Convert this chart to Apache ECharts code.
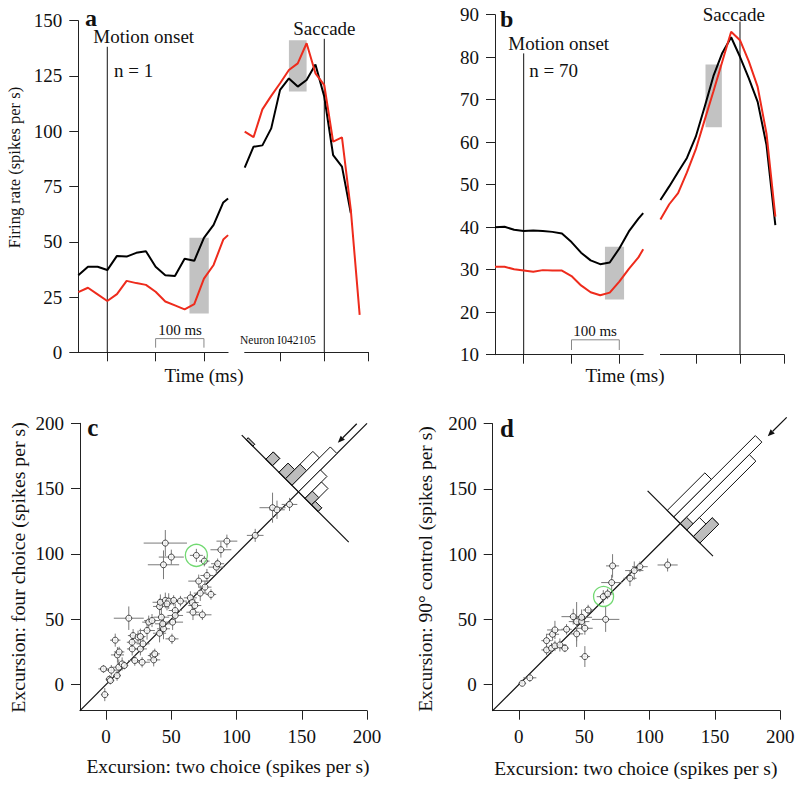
<!DOCTYPE html>
<html><head><meta charset="utf-8">
<script src="https://cdn.jsdelivr.net/npm/echarts@6/dist/echarts.min.js"></script>
<style>html,body{margin:0;padding:0;background:#fff}#chart{width:800px;height:787px}</style>
</head><body><div id="chart"></div>
<script>
// ---------------- DATA ----------------
// Panel a (single neuron), time in ms relative to motion onset (left) / saccade (right)
const aLeftTime  = [-60,-40,-20,0,20,40,60,80,100,120,140,160,180,200,220,240,250];
const aLeftBlack = [34.8,38.7,38.7,37.2,43.6,43.3,45.0,45.7,38.7,34.9,34.5,42.3,41.4,51.8,57.6,67.8,69.6];
const aLeftRed   = [27.2,29.2,26.2,23.2,26.3,32.3,31.3,30.5,27.4,23.0,21.2,19.4,21.8,33.3,39.5,51.0,53.0];
const aRightTime  = [-180,-160,-140,-120,-100,-80,-60,-40,-20,0,20,40,60,80];
const aRightBlack = [83.5,93.0,93.6,101.3,118.7,123.9,120.2,123.2,130.2,115.6,89.2,84.0,63.0,null];
const aRightRed   = [99.8,97.3,109.9,116.0,121.7,127.7,130.7,139.8,126.2,120.9,95.3,97.2,64.4,16.9];
const aBoxLeft  = [[170,210,17.5,51.8]];
const aBoxRight = [[-80,-40,118,141.2]];

// Panel b (population, n = 70)
const bLeftTime  = [-60,-40,-20,0,20,40,60,80,100,120,140,160,180,200,220,240,250];
const bLeftBlack = [40.0,40.1,39.4,39.1,39.2,39.1,38.9,38.5,36.5,34.0,32.2,31.3,31.7,35.0,39.0,42.0,43.3];
const bLeftRed   = [30.7,30.7,30.1,29.8,29.5,29.9,29.8,29.8,28.5,26.3,24.7,24.0,24.6,27.2,30.2,32.9,34.8];
const bRightTime  = [-180,-160,-140,-120,-100,-80,-60,-40,-20,0,20,40,60,80];
const bRightBlack = [46.4,49.6,53.0,56.3,61.3,68.3,75.6,81.0,84.7,80.1,75.0,69.5,59.3,40.5];
const bRightRed   = [41.8,45.4,48.0,52.9,58.3,65.2,72.0,79.0,86.0,84.0,79.0,73.0,62.0,42.5];
const bBoxLeft  = [[170,210,23,35.4]];
const bBoxRight = [[-78,-41,63.5,78.3]];

// Panel c: two choice (x), four choice (y), x error, y error
const cTwo  = [-1,-2,2.6,4,7,8.7,10,9.7,8.4,12.3,14,17.4,20.7,20,22,24.5,26.3,26.3,27.6,28.3,31.4,32.7,35.2,36,36.5,37.3,41,41.6,42.4,41,44,43.4,45.4,48,50.5,51,51.8,53,57,45.4,44,50,69.2,75.3,64.6,66,66.6,68,71,72.2,73.8,75.8,77.3,80.4,84.5,85.5,88,92.6,114.3,127.6,131,140.6,3.3,46.7,19.9,53];
const cFour = [-7.7,12,4.1,11,34,22.7,25,13.3,6.9,15.8,14.6,50.8,37.5,27.3,18.4,36.3,36.8,27.3,17.1,31.2,41.4,47.8,49,22.2,18.9,23.5,59.8,63,51.6,39.3,42.7,46.5,64.4,63.9,35,47.8,64.4,56.7,63.9,108.3,91.7,97.6,98.9,94.5,66.4,62.8,55.4,60.5,79.2,70,53.4,74.6,83.5,69,89.9,92.5,103.2,109.8,114.2,135.4,133.8,137.9,3.1,61.8,32.4,52.9];
const cTwoErr  = [3,4,3,4,4,5,4,5,3,4,3,11.5,4,4,5,5,4,5,6,5,6,5,6,4,5,4,5,6,6,5,5,6,5,6,5,8,5,5,5,16.6,12,9.6,5,4,5,5,5,5,8,5,7,5,5,4,6,5,8,8,6.4,10,6,6,3,5,4,6];
const cFourErr = [5,3,3,4,5,6,4,6,4,5,3,9,5,5,4,5,6,5,4,5,7,5,5,4,5,4,6,6,8,7,8,6,6,6,4,6,4,5,4,10,11,5.7,5,4,5,6,6,5,5,6,4,5,5,4,5,4,6,5,5,11.5,7,5,3,5,4,5];
const cHighlight = [[69.2,98.9]];
// Histogram of (four - two) differences, bins of 10 spikes/s
const cBinLo   = [70,40,20,10,0,-10,-20,-30];
const cBinHi   = [80,50,30,20,10,0,-10,-20];
const cCount   = [1,4,5,15,21,12,9,2];
const cGray    = [1,4,5,8,0,0,4,2];
const cMeanDiff = 7.5;

// Panel d: two choice (x), 90 deg control (y), x error, y error
const dTwo  = [2.6,8.4,21.2,21.2,25,25.8,27.6,27.6,31.4,35.2,36.5,41.6,44.2,44.2,48,48,50.5,50.5,53,64.6,67.9,66.4,71,71.7,85,88.3,92.6,113.8];
const dCtrl = [1,5.2,33.7,26.6,27.9,38.6,41.9,29.7,30.4,27.9,42.4,52.1,48.3,38.9,48.3,51.6,43.2,21.5,57.2,67.4,69.5,50,78.2,91,81.5,87.4,90.4,91.7];
const dTwoErr  = [3,5,4,4,5,5,6,4,5,3,4,9,6,5,6,8,6,4,4,5,4,10.5,8,5,5,7,6,7.7];
const dCtrlErr = [2,3,5,4,4,5,7,4,5,3,4,6,15,10,6,6,5,8,4,5,4,9.6,6,9,6,7,4,5];
const dHighlight = [[64.8,67.6]];
const dBinLo   = [10,0,-10,-20,-30];
const dBinHi   = [20,10,0,-10,-20];
const dCount   = [6,13,11,2,3];
const dGray    = [0,0,1,0,3];
const dMeanDiff = 0;

// ---------------- LAYOUT / STYLE ----------------
const serif = "'Liberation Serif','Times New Roman',serif";
const axisColor = '#222';
const red = '#ee2b1c';
const histC = {center:147.5, scale:1.4, extent:[-77,87]};
const histD = {center:123.5, scale:4.8, extent:[-50,50]};

const zip = (xs, ys) => xs.map((x,i) => [x, ys[i]]);
const zip4 = (a,b,c,d) => a.map((x,i) => [x,b[i],c[i],d[i]]);

const chart = echarts.init(document.getElementById('chart'), null, {renderer:'svg'});

const grids = [
  {left:78.3, top:20.7, width:149.8, height:331.6},
  {left:244.7, top:20.7, width:123.8, height:331.6},
  {left:495, top:14.7, width:148.2, height:340},
  {left:660.4, top:14.7, width:123.8, height:340},
  {left:80, top:423.3, width:287, height:287.4},
  {left:492.7, top:423.7, width:287.6, height:287}
].map(g => Object.assign({outerBoundsMode:'none', containLabel:false}, g));

function xAx(grid, min, max, ticks, showLabels) {
  return {type:'value', gridIndex:grid, min:min, max:max,
    axisLine:{show:true, onZero:false, lineStyle:{color:axisColor, width:1}},
    axisTick:{show:true, customValues:ticks, length:9, lineStyle:{color:axisColor, width:1}},
    axisLabel:{show:showLabels, customValues:ticks, margin:16, fontSize:19, fontFamily:serif, color:'#111'},
    splitLine:{show:false}};
}
function yAx(grid, min, max, opt) {
  const base = {type:'value', gridIndex:grid, min:min, max:max,
    axisLine:{show:true, onZero:false, lineStyle:{color:axisColor, width:1}},
    axisTick:{show:true, length:9, lineStyle:{color:axisColor, width:1}},
    axisLabel:{show:true, margin:16, fontSize:19, fontFamily:serif, color:'#111'},
    splitLine:{show:false}};
  if (opt.interval) base.interval = opt.interval;
  if (opt.ticks) { base.axisTick.customValues = opt.ticks; base.axisLabel.customValues = opt.ticks; }
  if (opt.hidden) base.show = false;
  return base;
}
const scTicks = [0,50,100,150,200];
const xAxes = [
  xAx(0,-60,250,[0,100,200],false),
  xAx(1,-180,100,[-100,0,100],false),
  xAx(2,-60,250,[0,100,200],false),
  xAx(3,-180,100,[-100,0,100],false),
  xAx(4,-20,200,scTicks,true),
  xAx(5,-20,200,scTicks,true)
];
const yAxes = [
  yAx(0,0,150,{interval:25}),
  yAx(1,0,150,{hidden:true}),
  yAx(2,10,90,{interval:10}),
  yAx(3,10,90,{hidden:true}),
  yAx(4,-20,200,{ticks:scTicks}),
  yAx(5,-20,200,{ticks:scTicks})
];

// ---------------- RENDER HELPERS ----------------
function boxSeries(idx, data) {
  return {type:'custom', xAxisIndex:idx, yAxisIndex:idx, data:data, z:1, silent:true,
    renderItem:(p, api) => {
      const p0 = api.coord([api.value(0), api.value(3)]);
      const p1 = api.coord([api.value(1), api.value(2)]);
      return {type:'rect', shape:{x:p0[0], y:p0[1], width:p1[0]-p0[0], height:p1[1]-p0[1]}, style:{fill:'#c2c2c2'}};
    }};
}
function lineSeries(idx, t, v, color) {
  return {type:'line', xAxisIndex:idx, yAxisIndex:idx, data:zip(t, v), symbol:'none', showSymbol:false,
    connectNulls:false, z:3, lineStyle:{color:color, width:2}, silent:true};
}
function eventLine(idx, t, yBottom, yTop) {
  return {type:'custom', xAxisIndex:idx, yAxisIndex:idx, data:[[t, yBottom, yTop]], z:2, silent:true,
    renderItem:(p, api) => {
      const a = api.coord([api.value(0), api.value(1)]);
      const b = api.coord([api.value(0), api.value(2)]);
      return {type:'line', shape:{x1:a[0], y1:a[1], x2:b[0], y2:b[1]}, style:{stroke:'#111', lineWidth:1}};
    }};
}
function scaleBar(idx, t0, t1, yBar, yEnd) {
  return {type:'custom', xAxisIndex:idx, yAxisIndex:idx, data:[[t0,t1,yBar,yEnd]], z:2, silent:true,
    renderItem:(p, api) => {
      const pts = [[0,3],[0,2],[1,2],[1,3]].map(([i,j]) => api.coord([api.value(i), api.value(j)]));
      return {type:'polyline', shape:{points:pts}, style:{stroke:'#888', lineWidth:1, fill:null}};
    }};
}
function errSeries(idx, data) {
  return {type:'custom', xAxisIndex:idx, yAxisIndex:idx, data:data, z:3, silent:true,
    renderItem:(p, api) => {
      const x = api.value(0), y = api.value(1), ex = api.value(2), ey = api.value(3);
      const h0 = api.coord([x-ex, y]), h1 = api.coord([x+ex, y]);
      const v0 = api.coord([x, y-ey]), v1 = api.coord([x, y+ey]);
      return {type:'group', children:[
        {type:'line', shape:{x1:h0[0], y1:h0[1], x2:h1[0], y2:h1[1]}, style:{stroke:'#7a7a7a', lineWidth:1}},
        {type:'line', shape:{x1:v0[0], y1:v0[1], x2:v1[0], y2:v1[1]}, style:{stroke:'#7a7a7a', lineWidth:1}}
      ]};
    }};
}
// point on histogram frame: difference d along the perpendicular, distance t along the diagonal
const hp = (h, d, t) => [h.center - d/2 + t, h.center + d/2 + t];
function histSeries(idx, h, lo, hi, cnt, gray) {
  const data = lo.map((v,i) => [v, hi[i], cnt[i], gray[i]]);
  return {type:'custom', xAxisIndex:idx, yAxisIndex:idx, data:data, z:5, silent:true,
    renderItem:(p, api) => {
      const d0 = api.value(0), d1 = api.value(1);
      const tf = api.value(2)*h.scale, tg = api.value(3)*h.scale;
      const poly = (t) => [hp(h,d0,0), hp(h,d1,0), hp(h,d1,t), hp(h,d0,t)].map(q => api.coord(q));
      const ch = [{type:'polygon', shape:{points:poly(tf)}, style:{fill:'#fff', stroke:'#111', lineWidth:1}}];
      if (tg > 0) ch.push({type:'polygon', shape:{points:poly(tg)}, style:{fill:'#bdbdbd', stroke:'#111', lineWidth:1}});
      return {type:'group', children:ch};
    }};
}
function baseLine(idx, h) {
  return {type:'line', xAxisIndex:idx, yAxisIndex:idx, z:6, symbol:'none', silent:true,
    data:[hp(h,h.extent[0],0), hp(h,h.extent[1],0)], lineStyle:{color:'#111', width:1.2}};
}
function arrowSeries(idx, h, mean, maxCount) {
  const tTip = maxCount*h.scale + 4.5, tTail = tTip + 14.5;
  return {type:'custom', xAxisIndex:idx, yAxisIndex:idx, z:6, silent:true,
    data:[[...hp(h,mean,tTail), ...hp(h,mean,tTip)]],
    renderItem:(p, api) => {
      const a = api.coord([api.value(0), api.value(1)]);
      const b = api.coord([api.value(2), api.value(3)]);
      const dx = b[0]-a[0], dy = b[1]-a[1], L = Math.hypot(dx,dy), ux = dx/L, uy = dy/L;
      const bx = b[0]-ux*7, by = b[1]-uy*7;
      return {type:'group', children:[
        {type:'line', shape:{x1:a[0], y1:a[1], x2:bx, y2:by}, style:{stroke:'#111', lineWidth:1.2}},
        {type:'polygon', shape:{points:[b, [bx-uy*3, by+ux*3], [bx+uy*3, by-ux*3]]}, style:{fill:'#111'}}
      ]};
    }};
}
function pointSeries(idx, data) {
  return {type:'scatter', xAxisIndex:idx, yAxisIndex:idx, data:data, symbol:'circle', symbolSize:6, z:4, silent:true,
    itemStyle:{color:'#fff', borderColor:'#222', borderWidth:1}};
}
function ringSeries(idx, data, size) {
  return {type:'scatter', xAxisIndex:idx, yAxisIndex:idx, data:data, symbol:'circle', symbolSize:size, z:7, silent:true,
    itemStyle:{color:'rgba(0,0,0,0)', borderColor:'#4fcf4f', borderWidth:1.3}};
}

const series = [
  boxSeries(0, aBoxLeft), boxSeries(1, aBoxRight),
  eventLine(0, 0, 0, 138.2), eventLine(1, 0, 0, 141.8),
  scaleBar(0, 100, 200, 6.2, 2.1),
  lineSeries(0, aLeftTime, aLeftBlack, '#000'), lineSeries(0, aLeftTime, aLeftRed, red),
  lineSeries(1, aRightTime, aRightBlack, '#000'), lineSeries(1, aRightTime, aRightRed, red),

  boxSeries(2, bBoxLeft), boxSeries(3, bBoxRight),
  eventLine(2, 0, 10, 80.9), eventLine(3, 0, 10, 88.4),
  scaleBar(2, 100, 200, 13.5, 11.1),
  lineSeries(2, bLeftTime, bLeftBlack, '#000'), lineSeries(2, bLeftTime, bLeftRed, red),
  lineSeries(3, bRightTime, bRightBlack, '#000'), lineSeries(3, bRightTime, bRightRed, red),

  {type:'line', xAxisIndex:4, yAxisIndex:4, data:[[-20,-20],[200,200]], symbol:'none', z:2, silent:true, lineStyle:{color:'#111', width:1.2}},
  errSeries(4, zip4(cTwo, cFour, cTwoErr, cFourErr)),
  pointSeries(4, zip(cTwo, cFour)),
  histSeries(4, histC, cBinLo, cBinHi, cCount, cGray),
  baseLine(4, histC),
  arrowSeries(4, histC, cMeanDiff, Math.max(...cCount)),
  ringSeries(4, cHighlight, 22),

  {type:'line', xAxisIndex:5, yAxisIndex:5, data:[[-20,-20],[histD.center,histD.center]], symbol:'none', z:2, silent:true, lineStyle:{color:'#111', width:1.2}},
  errSeries(5, zip4(dTwo, dCtrl, dTwoErr, dCtrlErr)),
  pointSeries(5, zip(dTwo, dCtrl)),
  histSeries(5, histD, dBinLo, dBinHi, dCount, dGray),
  baseLine(5, histD),
  arrowSeries(5, histD, dMeanDiff, Math.max(...dCount)),
  ringSeries(5, dHighlight, 20)
];

// ---------------- TEXT ----------------
function txt(text, x, baseline, fs, opt) {
  opt = opt || {};
  return {type:'text', x:x, y:baseline - 0.31*fs, z:100, silent:true,
    style:{text:text, fontSize:fs, fontFamily:serif, fill:'#111', align:opt.align||'left', verticalAlign:'middle', fontWeight:opt.bold?'bold':'normal'}};
}
function rot(text, cx, cy, fs) {
  return {type:'text', x:cx, y:cy, rotation:Math.PI/2, z:100, silent:true,
    style:{text:text, fontSize:fs, fontFamily:serif, fill:'#111', align:'center', verticalAlign:'middle'}};
}
const C = {align:'center'};
const graphics = [
  txt('a', 85, 25, 24, {bold:true}),
  txt('Motion onset', 93.3, 42.3, 19),
  txt('Saccade', 293.3, 34, 19),
  txt('n = 1', 114, 76.5, 19),
  txt('100 ms', 180, 335, 15, C),
  txt('Neuron I042105', 240, 344, 11.5),
  txt('Time (ms)', 204, 381.5, 19, C),
  rot('Firing rate (spikes per s)', 14, 167.5, 16.5),

  txt('b', 500, 26, 24, {bold:true}),
  txt('Motion onset', 508.3, 49.3, 19),
  txt('Saccade', 702.7, 20.7, 19),
  txt('n = 70', 529.3, 76.7, 19),
  txt('100 ms', 595, 336, 15, C),
  txt('Time (ms)', 625, 381, 19, C),

  txt('c', 87.3, 435, 25, {bold:true}),
  txt('Excursion: two choice (spikes per s)', 228, 772.7, 19.5, C),
  rot('Excursion: four choice (spikes per s)', 17.7, 567.5, 19.8),

  txt('d', 500, 436, 25, {bold:true}),
  txt('Excursion: two choice (spikes per s)', 635.8, 775, 19.5, C),
  rot('Excursion: 90\u00b0 control (spikes per s)', 425, 569, 19.5)
];

chart.setOption({
  animation:false,
  backgroundColor:'#fff',
  grid:grids, xAxis:xAxes, yAxis:yAxes, series:series,
  graphic:{elements:graphics}
});
</script></body></html>
